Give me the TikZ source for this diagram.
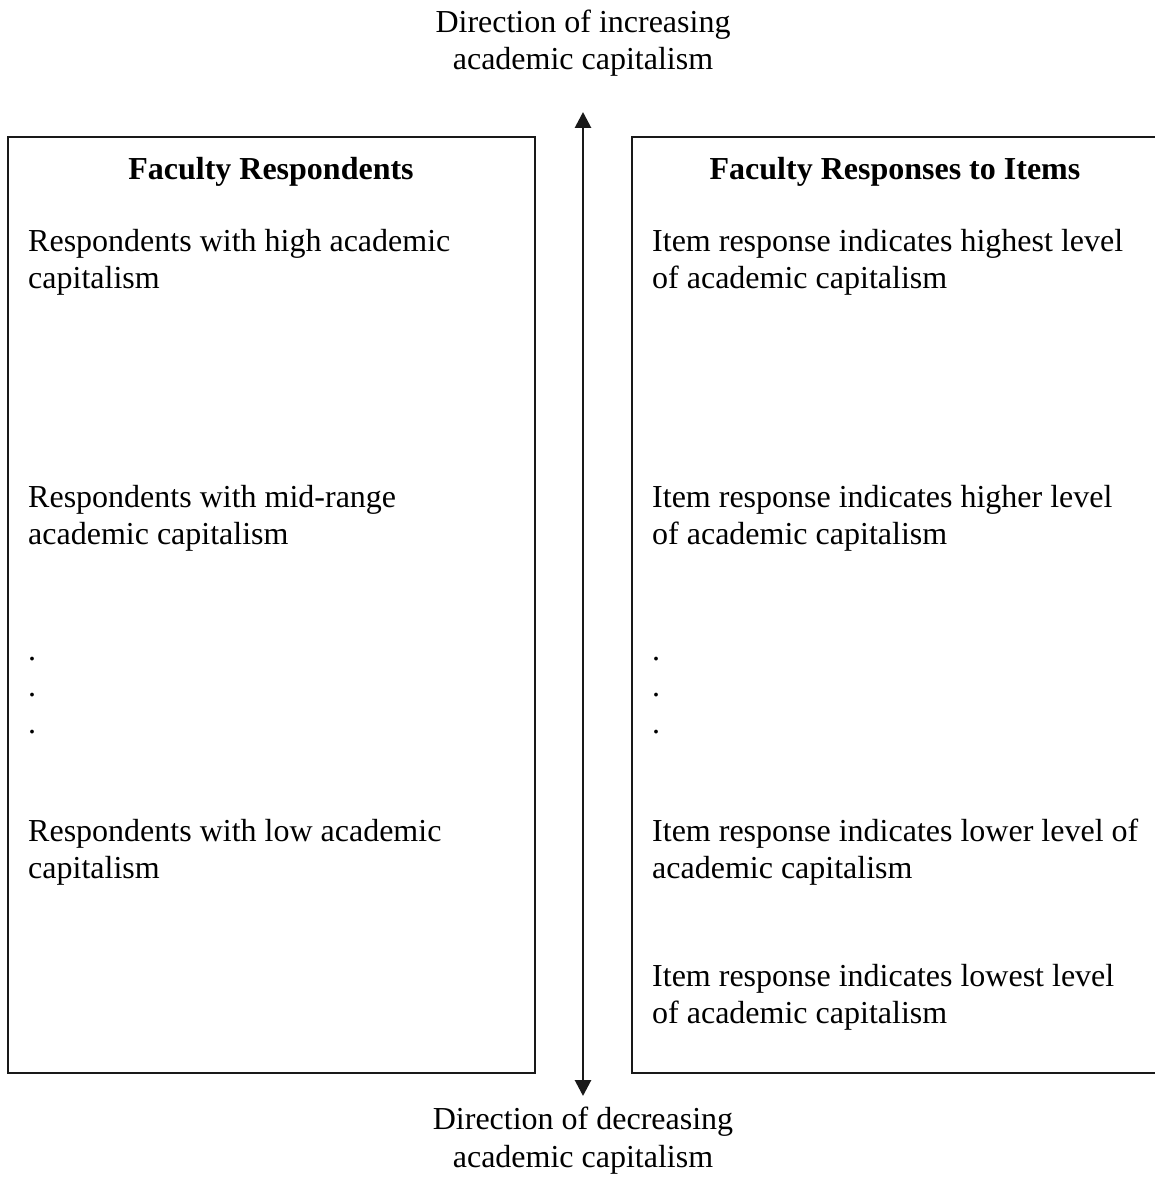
\documentclass[tikz,border=0pt]{standalone}
\usepackage{fontspec}
\setmainfont{Liberation Serif}
\usetikzlibrary{arrows.meta}
\begin{document}
\begin{tikzpicture}[x=1pt,y=-1pt,
  txt/.style={inner sep=0pt,anchor=base west,font=\fontsize{32}{38}\selectfont},
  ctr/.style={inner sep=0pt,anchor=base,font=\fontsize{32}{38}\selectfont},
  hdr/.style={inner sep=0pt,anchor=base,font=\fontsize{32}{38}\selectfont\bfseries},
  panel/.style={draw=black!90,line width=2.8pt},
  axis/.style={draw=black!90,line width=2.8pt,{Triangle[width=16pt,length=16pt]}-{Triangle[width=16pt,length=16pt]}}]
\useasboundingbox (0,0) rectangle (1154,1204);

% panels
\draw[panel] (8,137) rectangle (535,1073);
\draw[panel] (632,137) rectangle (1168,1073);

% vertical axis
\coordinate (top) at (583,112);
\coordinate (bot) at (583,1096);
\draw[axis] (bot) -- (top);

% axis labels
\node[ctr] (inc1) at (583,33) {Direction of increasing};
\node[ctr] (inc2) at (583,70) {academic capitalism};
\node[ctr] (dec1) at (583,1129) {Direction of decreasing};
\node[ctr] (dec2) at (583,1167) {academic capitalism};

% left panel
\node[hdr] (lhead) at (271,179) {Faculty Respondents};
\node[txt] (lh1) at (28,251) {Respondents with high academic};
\node[txt] (lh2) at (28,288) {capitalism};
\node[txt] (lm1) at (28,507) {Respondents with mid-range};
\node[txt] (lm2) at (28,544) {academic capitalism};
\node[txt] (ld1) at (28,660) {.};
\node[txt] (ld2) at (28,696) {.};
\node[txt] (ld3) at (28,733) {.};
\node[txt] (ll1) at (28,841) {Respondents with low academic};
\node[txt] (ll2) at (28,878) {capitalism};

% right panel
\node[hdr] (rhead) at (895,179) {Faculty Responses to Items};
\node[txt] (rh1) at (652,251) {Item response indicates highest level};
\node[txt] (rh2) at (652,288) {of academic capitalism};
\node[txt] (rr1) at (652,507) {Item response indicates higher level};
\node[txt] (rr2) at (652,544) {of academic capitalism};
\node[txt] (rd1) at (652,660) {.};
\node[txt] (rd2) at (652,696) {.};
\node[txt] (rd3) at (652,733) {.};
\node[txt] (rl1) at (652,841) {Item response indicates lower level of};
\node[txt] (rl2) at (652,878) {academic capitalism};
\node[txt] (rw1) at (652,986) {Item response indicates lowest level};
\node[txt] (rw2) at (652,1023) {of academic capitalism};
\end{tikzpicture}
\end{document}
